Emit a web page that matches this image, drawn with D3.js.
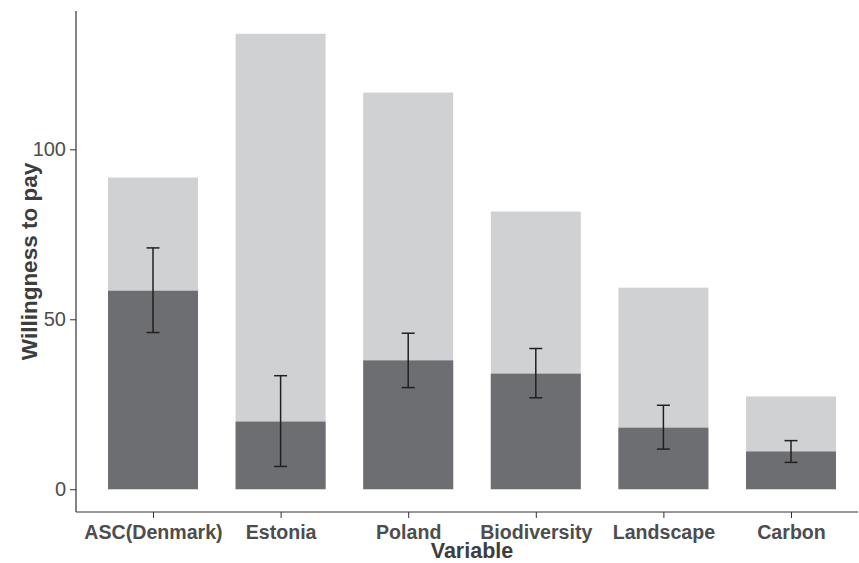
<!DOCTYPE html>
<html>
<head>
<meta charset="utf-8">
<script src="https://cdn.jsdelivr.net/npm/d3@7"></script>
<style>
  body { margin: 0; background: #fff; }
  svg { display: block; font-family: "Liberation Sans", Arial, Helvetica, sans-serif; }
</style>
</head>
<body>
<div id="chart"></div>
<script>
// values
const variables = ['ASC(Denmark)', 'Estonia', 'Poland', 'Biodiversity', 'Landscape', 'Carbon'];
const upperWtp = [91.7, 134.0, 116.7, 81.7, 59.3, 27.3];
const meanWtp = [58.4, 19.9, 37.9, 34.0, 18.1, 11.1];
const ciLow = [46.1, 6.7, 29.9, 26.9, 11.8, 7.9];
const ciHigh = [71.0, 33.4, 45.9, 41.4, 24.7, 14.3];
const yTicks = [0, 50, 100];

const width = 859;
const height = 563;
const plotLeft = 76, plotRight = 858, plotTop = 11, plotBottom = 512;

const rows = variables.map((v, i) => ({
  name: v, upper: upperWtp[i], mean: meanWtp[i], lo: ciLow[i], hi: ciHigh[i]
}));

const maxVal = d3.max(upperWtp);
const pad = maxVal * 0.05;

const x = d3.scalePoint()
            .domain(variables)
            .range([153, 791]);

const y = d3.scaleLinear()
            .domain([-pad, maxVal + pad])
            .range([plotBottom, plotTop]);

const barWidth = 90;
const capWidth = 13;

const svg = d3.select('#chart')
              .append('svg')
              .attr('width', width)
              .attr('height', height);

// light bars behind
svg.append('g')
   .selectAll('rect')
   .data(rows)
   .enter()
   .append('rect')
   .attr('x', d => x(d.name) - barWidth / 2)
   .attr('width', barWidth)
   .attr('y', d => y(d.upper))
   .attr('height', d => y(0) - y(d.upper))
   .attr('fill', '#d0d1d3');

// dark bars on top
svg.append('g')
   .selectAll('rect')
   .data(rows)
   .enter()
   .append('rect')
   .attr('x', d => x(d.name) - barWidth / 2)
   .attr('width', barWidth)
   .attr('y', d => y(d.mean))
   .attr('height', d => y(0) - y(d.mean))
   .attr('fill', '#6d6e71');

// error bars
const eb = svg.append('g')
              .attr('stroke', '#231f20')
              .attr('stroke-width', 1.5)
              .selectAll('g')
              .data(rows)
              .enter()
              .append('g');

eb.append('line')
  .attr('x1', d => x(d.name))
  .attr('x2', d => x(d.name))
  .attr('y1', d => y(d.lo))
  .attr('y2', d => y(d.hi));

eb.append('line')
  .attr('x1', d => x(d.name) - capWidth / 2)
  .attr('x2', d => x(d.name) + capWidth / 2)
  .attr('y1', d => y(d.hi))
  .attr('y2', d => y(d.hi));

eb.append('line')
  .attr('x1', d => x(d.name) - capWidth / 2)
  .attr('x2', d => x(d.name) + capWidth / 2)
  .attr('y1', d => y(d.lo))
  .attr('y2', d => y(d.lo));

// axes
const yAxis = svg.append('g')
                 .attr('transform', `translate(${plotLeft},0)`)
                 .call(d3.axisLeft(y).tickValues(yTicks).tickSize(6).tickPadding(4).tickSizeOuter(0));
yAxis.select('.domain').remove();
yAxis.selectAll('line').attr('stroke', '#333');
yAxis.selectAll('text')
     .attr('fill', '#4d4d4d')
     .style('font-size', '20px');

const xAxis = svg.append('g')
                 .attr('transform', `translate(0,${plotBottom})`)
                 .call(d3.axisBottom(x).tickSize(6).tickPadding(7).tickSizeOuter(0));
xAxis.select('.domain').remove();
xAxis.selectAll('line').attr('stroke', '#333');
xAxis.selectAll('text')
     .attr('fill', '#4d4d4d')
     .style('font-size', '19.6px')
     .style('font-weight', 'bold');

svg.append('line')
   .attr('x1', plotLeft).attr('x2', plotLeft)
   .attr('y1', plotTop).attr('y2', plotBottom)
   .attr('stroke', '#333').attr('stroke-width', 1.2);

svg.append('line')
   .attr('x1', plotLeft).attr('x2', plotRight)
   .attr('y1', plotBottom).attr('y2', plotBottom)
   .attr('stroke', '#333').attr('stroke-width', 1.2);

// titles
svg.append('text')
   .attr('x', (plotLeft + plotRight) / 2 + 5)
   .attr('y', 558)
   .attr('text-anchor', 'middle')
   .attr('fill', '#3d3d3d')
   .style('font-size', '21.5px')
   .style('font-weight', 'bold')
   .text('Variable');

svg.append('text')
   .attr('transform', `translate(37,${(plotTop + plotBottom) / 2}) rotate(-90)`)
   .attr('text-anchor', 'middle')
   .attr('fill', '#3d3d3d')
   .style('font-size', '22.5px')
   .style('font-weight', 'bold')
   .text('Willingness to pay');
</script>
</body>
</html>
